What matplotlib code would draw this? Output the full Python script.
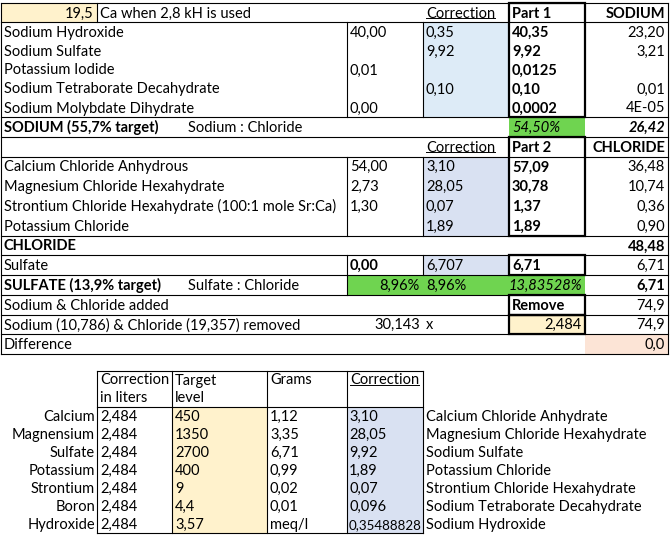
import matplotlib
matplotlib.use("Agg")
import matplotlib.pyplot as plt
import numpy as np

plt.rcParams['font.family'] = ['Lato', 'DejaVu Sans']
FS = 10.5

# ---- data: upper sheet ----
ca_value = "19,5"
ca_note = "Ca when 2,8 kH is used"

part1_names = ["Sodium Hydroxide", "Sodium Sulfate", "Potassium Iodide",
               "Sodium Tetraborate Decahydrate", "Sodium Molybdate Dihydrate"]
part1_base = ["40,00", "", "0,01", "", "0,00"]
part1_corr = ["0,35", "9,92", "", "0,10", ""]
part1_total = ["40,35", "9,92", "0,0125", "0,10", "0,0002"]
part1_sodium = ["23,20", "3,21", "", "0,01", "4E-05"]

sodium_label = "SODIUM (55,7% target)"
sodium_ratio_label = "Sodium : Chloride"
sodium_ratio = "54,50%"
sodium_sum = "26,42"

part2_names = ["Calcium Chloride Anhydrous", "Magnesium Chloride Hexahydrate",
               "Strontium Chloride Hexahydrate (100:1 mole Sr:Ca)", "Potassium Chloride"]
part2_base = ["54,00", "2,73", "1,30", ""]
part2_corr = ["3,10", "28,05", "0,07", "1,89"]
part2_total = ["57,09", "30,78", "1,37", "1,89"]
part2_chloride = ["36,48", "10,74", "0,36", "0,90"]
chloride_sum = "48,48"

sulfate_row = ["Sulfate", "0,00", "6,707", "6,71", "6,71"]
sulfate_label = "SULFATE (13,9% target)"
sulfate_ratio_label = "Sulfate : Chloride"
sulfate_ratios = ["8,96%", "8,96%", "13,83528%"]
sulfate_sum = "6,71"

added_label = "Sodium & Chloride added"
added_value = "74,9"
removed_label = "Sodium (10,786) & Chloride (19,357) removed"
removed_factor = "30,143"
removed_liters = "2,484"
removed_value = "74,9"
diff_label = "Difference"
diff_value = "0,0"

# ---- data: lower table ----
elements = ["Calcium", "Magnensium", "Sulfate", "Potassium", "Strontium", "Boron", "Hydroxide"]
liters = ["2,484"] * 7
target_level = ["450", "1350", "2700", "400", "9", "4,4", "3,57"]
grams = ["1,12", "3,35", "6,71", "0,99", "0,02", "0,01", "meq/l"]
correction = ["3,10", "28,05", "9,92", "1,89", "0,07", "0,096", "0,35488828"]
compounds = ["Calcium Chloride Anhydrate", "Magnesium Chloride Hexahydrate", "Sodium Sulfate",
             "Potassium Chloride", "Strontium Chloride Hexahydrate",
             "Sodium Tetraborate Decahydrate", "Sodium Hydroxide"]

YELLOW = "#fff2cc"
BLUE1 = "#ddebf7"
BLUE2 = "#d9e1f2"
GREEN = "#6fd450"
PINK = "#fce4d6"

fig = plt.figure(figsize=(6.71, 5.38), dpi=100)
ax = fig.add_axes([0, 0, 1, 1])
ax.set_xlim(0, 671)
ax.set_ylim(538, 0)
ax.axis("off")

# column edges (upper sheet)
XA, XB, XC, XD, XE, XF, XG = 1, 97, 347, 423, 509, 585, 668
# row edges (upper sheet)
rows = np.concatenate([3 + 19 * np.arange(6), 117 + 19.75 * np.arange(13)])

underlined = []


def fill(x0, x1, r0, r1, color):
    ax.add_patch(plt.Rectangle((x0, rows[r0]), x1 - x0, rows[r1] - rows[r0],
                               facecolor=color, edgecolor="none", zorder=1))


def txt(x, y, s, ha="left", bold=False, italic=False, under=False, size=FS):
    t = ax.text(x, y, s, ha=ha, va="center", fontsize=size,
                fontweight="bold" if bold else "normal",
                fontstyle="italic" if italic else "normal", zorder=5)
    if under:
        underlined.append(t)
    return t


def cell(x0, x1, r, s, ha="left", **kw):
    y = (rows[r] + rows[r + 1]) / 2 + 1
    x = x0 + 3 if ha == "left" else x1 - 3
    return txt(x, y, s, ha=ha, **kw)


def hline(y, x0=XA, x1=XG, lw=0.8):
    ax.plot([x0, x1], [y, y], color="black", lw=lw, zorder=3, solid_capstyle="projecting")


def vline(x, y0, y1, lw=0.8):
    ax.plot([x, x], [y0, y1], color="black", lw=lw, zorder=3, solid_capstyle="projecting")


def box(x0, x1, r0, r1):
    ax.add_patch(plt.Rectangle((x0, rows[r0]), x1 - x0, rows[r1] - rows[r0],
                               facecolor="none", edgecolor="black", lw=1.6, zorder=4))


# fills
fill(XA, XB, 0, 1, YELLOW)
fill(XD, XE, 1, 6, BLUE1)
fill(XE, XF, 6, 7, GREEN)
fill(XD, XE, 8, 12, BLUE2)
fill(XD, XE, 13, 14, BLUE2)
fill(XC, XF, 14, 15, GREEN)
fill(XE, XF, 16, 17, YELLOW)
fill(XF, XG, 17, 18, PINK)

# horizontal borders
for r in [0, 1, 6, 7, 8, 12, 13, 14, 15, 16, 17, 18]:
    hline(rows[r])
# vertical borders
vline(XA, rows[0], rows[18])
vline(XG, rows[0], rows[18])
vline(XB, rows[0], rows[1])
for r0, r1 in [(1, 6), (8, 12), (13, 14)]:
    vline(XC, rows[r0], rows[r1])
    vline(XD, rows[r0], rows[r1])
vline(XC, rows[14], rows[15])
# thick boxes
box(XE, XF, 0, 6)
box(XE, XF, 7, 12)
box(XE, XF, 13, 14)
box(XE, XF, 15, 16)
box(XE, XF, 16, 17)

# row 0
cell(XA, XB, 0, ca_value, ha="right")
cell(XB, XC, 0, ca_note)
cell(XD, XE, 0, "Correction", under=True)
cell(XE, XF, 0, "Part 1", bold=True)
cell(XF, XG, 0, "SODIUM", ha="right", bold=True)

for i in range(5):
    r = 1 + i
    cell(XA, XC, r, part1_names[i])
    cell(XC, XD, r, part1_base[i])
    cell(XD, XE, r, part1_corr[i])
    cell(XE, XF, r, part1_total[i], bold=True)
    cell(XF, XG, r, part1_sodium[i], ha="right")

cell(XA, XC, 6, sodium_label, bold=True)
cell(185, XC, 6, sodium_ratio_label)
cell(XE, XF, 6, sodium_ratio, italic=True)
cell(XF, XG, 6, sodium_sum, ha="right", bold=True, italic=True)

cell(XD, XE, 7, "Correction", under=True)
cell(XE, XF, 7, "Part 2", bold=True)
cell(XF, XG, 7, "CHLORIDE", ha="right", bold=True)

for i in range(4):
    r = 8 + i
    cell(XA, XC, r, part2_names[i])
    cell(XC, XD, r, part2_base[i])
    cell(XD, XE, r, part2_corr[i])
    cell(XE, XF, r, part2_total[i], bold=True)
    cell(XF, XG, r, part2_chloride[i], ha="right")

cell(XA, XC, 12, "CHLORIDE", bold=True)
cell(XF, XG, 12, chloride_sum, ha="right", bold=True)

cell(XA, XC, 13, sulfate_row[0])
cell(XC, XD, 13, sulfate_row[1], bold=True)
cell(XD, XE, 13, sulfate_row[2])
cell(XE, XF, 13, sulfate_row[3], bold=True)
cell(XF, XG, 13, sulfate_row[4], ha="right")

cell(XA, XC, 14, sulfate_label, bold=True)
cell(185, XC, 14, sulfate_ratio_label)
cell(XC, XD, 14, sulfate_ratios[0], ha="right")
cell(XD, XE, 14, sulfate_ratios[1])
cell(XE, XF, 14, sulfate_ratios[2], ha="right", italic=True)
cell(XF, XG, 14, sulfate_sum, ha="right", bold=True)

cell(XA, XC, 15, added_label)
cell(XE, XF, 15, "Remove", bold=True)
cell(XF, XG, 15, added_value, ha="right")

cell(XA, XC, 16, removed_label)
cell(XC, XD, 16, removed_factor, ha="right")
cell(XD, XE, 16, "x")
cell(XE, XF, 16, removed_liters, ha="right")
cell(XF, XG, 16, removed_value, ha="right")

cell(XA, XC, 17, diff_label)
cell(XF, XG, 17, diff_value, ha="right")

# ---- lower table ----
bx = [97, 172, 267, 347, 423]
b_top, b_head, b_h = 371, 407, 18
b_bot = b_head + b_h * len(elements)

ax.add_patch(plt.Rectangle((bx[1], b_head), bx[2] - bx[1], b_bot - b_head,
                           facecolor=YELLOW, edgecolor="none", zorder=1))
ax.add_patch(plt.Rectangle((bx[3], b_head), bx[4] - bx[3], b_bot - b_head,
                           facecolor=BLUE2, edgecolor="none", zorder=1))
for x in bx:
    vline(x, b_top, b_bot)
hline(b_top, bx[0], bx[-1])
hline(b_head, bx[0], bx[-1])
hline(b_bot, bx[0], bx[-1])

h1, h2 = b_top + 9.5, b_top + 27.5
txt(bx[0] + 3, h1, "Correction")
txt(bx[0] + 3, h2, "in liters")
txt(bx[1] + 3, h1, "Target")
txt(bx[1] + 3, h2, "level")
txt(bx[2] + 3, h1, "Grams")
txt(bx[3] + 3, h1, "Correction", under=True)

for i in range(len(elements)):
    y = b_head + b_h * i + b_h / 2 + 1
    txt(bx[0] - 2, y, elements[i], ha="right")
    txt(bx[0] + 3, y, liters[i])
    txt(bx[1] + 3, y, target_level[i])
    txt(bx[2] + 3, y, grams[i])
    # long values are squeezed to stay inside the column
    sz = FS if len(correction[i]) < 8 else 9.6
    txt(bx[3] + 2, y, correction[i], size=sz)
    txt(bx[4] + 3, y, compounds[i])

# underline the underlined headers
fig.canvas.draw()
renderer = fig.canvas.get_renderer()
inv = ax.transData.inverted()
for t in underlined:
    bb = t.get_window_extent(renderer)
    (x0, y0), (x1, y1) = inv.transform([(bb.x0, bb.y0), (bb.x1, bb.y1)])
    yb = max(y0, y1) - 2.5
    ax.plot([x0, x1], [yb, yb], color="black", lw=0.7, zorder=5)

fig.savefig("out.png", dpi=100)
